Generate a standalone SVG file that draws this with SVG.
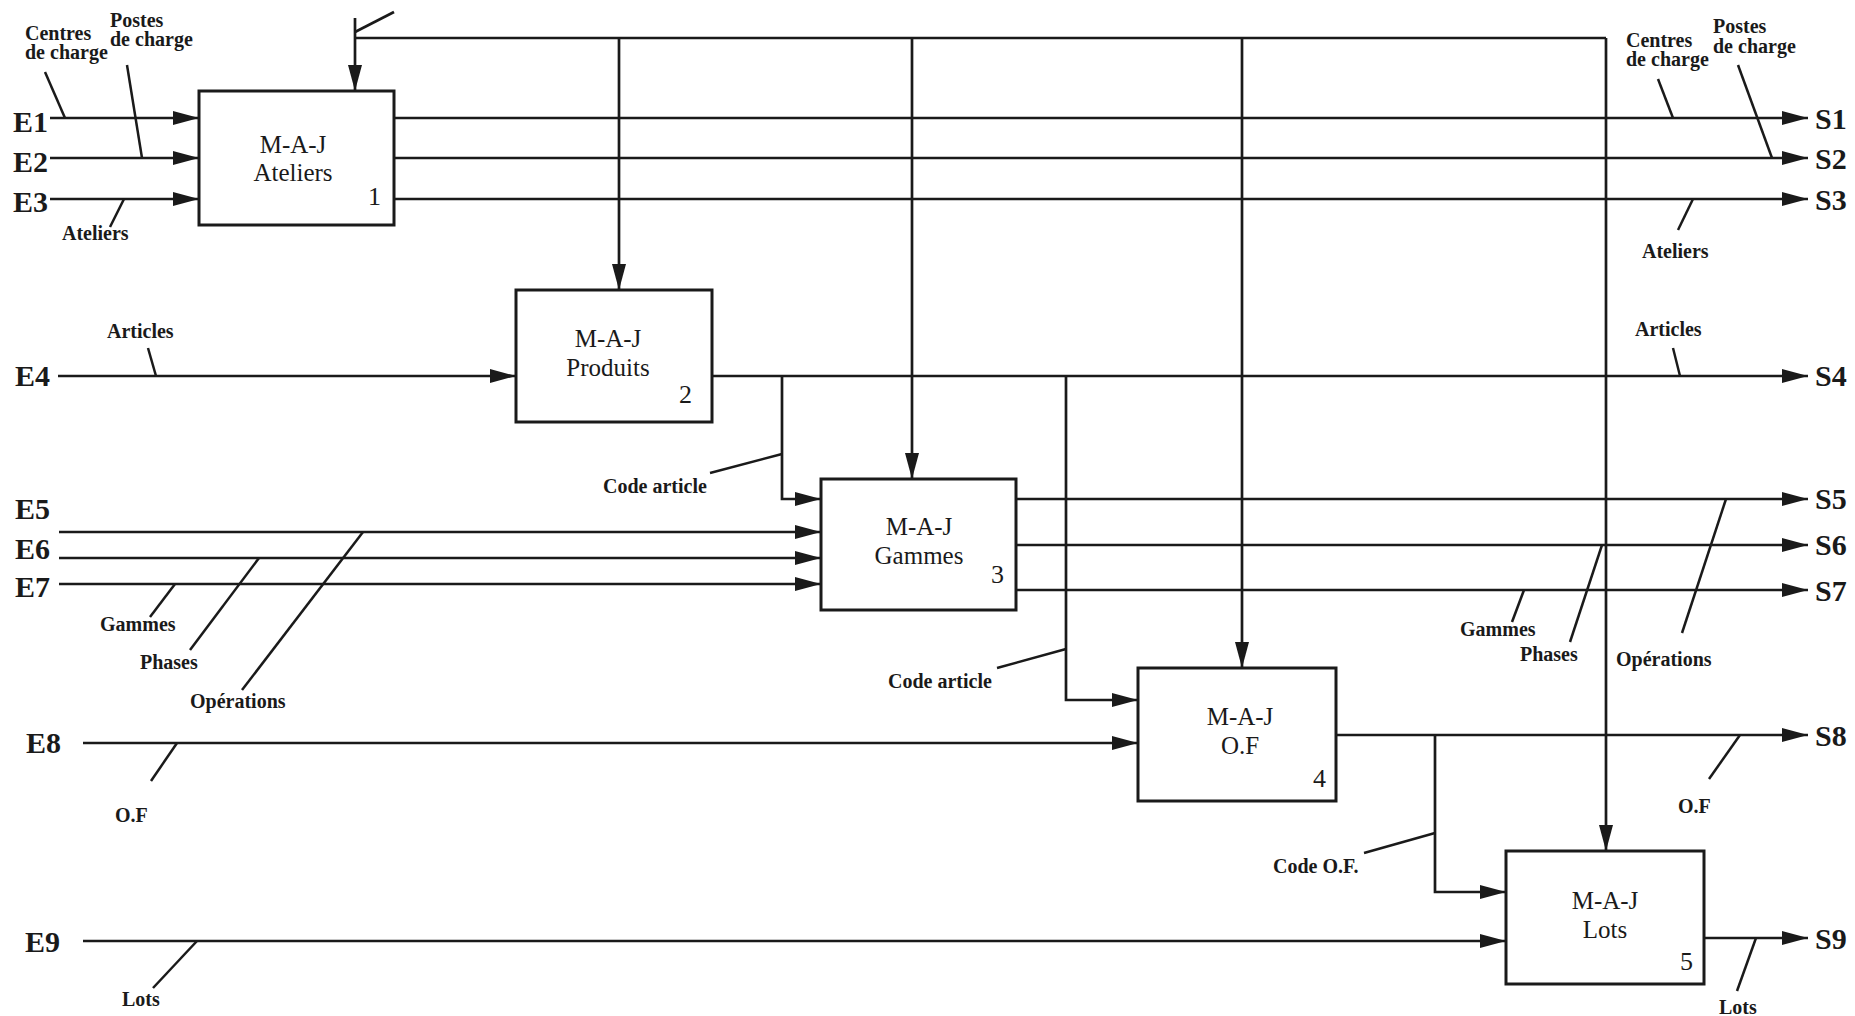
<svg xmlns="http://www.w3.org/2000/svg" width="1855" height="1016" viewBox="0 0 1855 1016">
<defs>
<marker id="ah" markerUnits="userSpaceOnUse" markerWidth="26" markerHeight="14" refX="26" refY="7" orient="auto" viewBox="0 0 26 14"><path d="M0,0 L26,7 L0,14 z" fill="#1a1a1a"/></marker>
</defs>
<style>
.ln{fill:none;stroke:#1a1a1a;stroke-width:2.7}
.ar{marker-end:url(#ah)}
.ld{fill:none;stroke:#1a1a1a;stroke-width:2.5}
.box{fill:#fff;stroke:#1a1a1a;stroke-width:3}
.bt{font-family:"Liberation Serif","Times New Roman",serif;font-size:25px;fill:#1a1a1a;text-anchor:middle}
.bn{font-family:"Liberation Serif","Times New Roman",serif;font-size:26px;fill:#1a1a1a;text-anchor:end}
.io{font-family:"Liberation Serif","Times New Roman",serif;font-size:30px;font-weight:bold;fill:#1a1a1a}
.lb{font-family:"Liberation Serif","Times New Roman",serif;font-size:20px;font-weight:bold;fill:#1a1a1a}
</style>
<rect width="1855" height="1016" fill="#fff"/>
<g id="connectors">
<path class="ln ar" d="M50,118 H199"/>
<path class="ln ar" d="M50,158 H199"/>
<path class="ln ar" d="M50,199 H199"/>
<path class="ln ar" d="M58,376 H516"/>
<path class="ln ar" d="M59,532 H821"/>
<path class="ln ar" d="M59,558 H821"/>
<path class="ln ar" d="M59,584 H821"/>
<path class="ln ar" d="M83,743 H1138"/>
<path class="ln ar" d="M83,941 H1506"/>
<path class="ln ar" d="M355,18 V91"/>
<path class="ln" d="M355,32 L394,12"/>
<path class="ln" d="M355,38 H1606"/>
<path class="ln ar" d="M619,38 V290"/>
<path class="ln ar" d="M912,38 V479"/>
<path class="ln ar" d="M1242,38 V668"/>
<path class="ln ar" d="M1606,38 V851"/>
<path class="ln ar" d="M394,118 H1808"/>
<path class="ln ar" d="M394,158 H1808"/>
<path class="ln ar" d="M394,199 H1808"/>
<path class="ln ar" d="M712,376 H1808"/>
<path class="ln ar" d="M1016,499 H1808"/>
<path class="ln ar" d="M1016,545 H1808"/>
<path class="ln ar" d="M1016,590 H1808"/>
<path class="ln ar" d="M1336,735 H1808"/>
<path class="ln ar" d="M1704,938 H1808"/>
<path class="ln ar" d="M782,376 V499 H821"/>
<path class="ln ar" d="M1066,376 V700 H1138"/>
<path class="ln ar" d="M1435,735 V892 H1506"/>
</g>
<g id="leaders">
<path class="ld" d="M45,72 L65,118"/>
<path class="ld" d="M127,65 L142,158"/>
<path class="ld" d="M124,199 L110,227"/>
<path class="ld" d="M148,348 L156,376"/>
<path class="ld" d="M175,584 L150,617"/>
<path class="ld" d="M259,558 L190,650"/>
<path class="ld" d="M363,532 L242,690"/>
<path class="ld" d="M177,743 L151,781"/>
<path class="ld" d="M197,941 L153,988"/>
<path class="ld" d="M710,473 L782,454"/>
<path class="ld" d="M997,668 L1066,649"/>
<path class="ld" d="M1364,853 L1435,833"/>
<path class="ld" d="M1658,79 L1673,118"/>
<path class="ld" d="M1738,65 L1772,158"/>
<path class="ld" d="M1693,199 L1678,230"/>
<path class="ld" d="M1673,348 L1680,376"/>
<path class="ld" d="M1524,590 L1512,622"/>
<path class="ld" d="M1602,545 L1570,642"/>
<path class="ld" d="M1726,499 L1682,633"/>
<path class="ld" d="M1740,735 L1709,779"/>
<path class="ld" d="M1756,938 L1737,991"/>
</g>
<g id="node1">
<rect class="box" x="199" y="91" width="195" height="134"/>
<text class="bt" x="293" y="153">M-A-J</text>
<text class="bt" x="293" y="181">Ateliers</text>
<text class="bn" x="381" y="205">1</text>
</g>
<g id="node2">
<rect class="box" x="516" y="290" width="196" height="132"/>
<text class="bt" x="608" y="347">M-A-J</text>
<text class="bt" x="608" y="376">Produits</text>
<text class="bn" x="692" y="403">2</text>
</g>
<g id="node3">
<rect class="box" x="821" y="479" width="195" height="131"/>
<text class="bt" x="919" y="535">M-A-J</text>
<text class="bt" x="919" y="564">Gammes</text>
<text class="bn" x="1004" y="583">3</text>
</g>
<g id="node4">
<rect class="box" x="1138" y="668" width="198" height="133"/>
<text class="bt" x="1240" y="725">M-A-J</text>
<text class="bt" x="1240" y="754">O.F</text>
<text class="bn" x="1326" y="787">4</text>
</g>
<g id="node5">
<rect class="box" x="1506" y="851" width="198" height="133"/>
<text class="bt" x="1605" y="909">M-A-J</text>
<text class="bt" x="1605" y="938">Lots</text>
<text class="bn" x="1693" y="970">5</text>
</g>
<g id="io-labels">
<text class="io" x="13" y="132">E1</text>
<text class="io" x="13" y="172">E2</text>
<text class="io" x="13" y="212">E3</text>
<text class="io" x="15" y="386">E4</text>
<text class="io" x="15" y="519">E5</text>
<text class="io" x="15" y="559">E6</text>
<text class="io" x="15" y="597">E7</text>
<text class="io" x="26" y="753">E8</text>
<text class="io" x="25" y="952">E9</text>
<text class="io" x="1815" y="129">S1</text>
<text class="io" x="1815" y="169">S2</text>
<text class="io" x="1815" y="210">S3</text>
<text class="io" x="1815" y="386">S4</text>
<text class="io" x="1815" y="509">S5</text>
<text class="io" x="1815" y="555">S6</text>
<text class="io" x="1815" y="601">S7</text>
<text class="io" x="1815" y="746">S8</text>
<text class="io" x="1815" y="949">S9</text>
</g>
<g id="flow-labels">
<text class="lb" x="25" y="40">Centres</text>
<text class="lb" x="25" y="59">de charge</text>
<text class="lb" x="110" y="27">Postes</text>
<text class="lb" x="110" y="46">de charge</text>
<text class="lb" x="62" y="240">Ateliers</text>
<text class="lb" x="107" y="338">Articles</text>
<text class="lb" x="100" y="631">Gammes</text>
<text class="lb" x="140" y="669">Phases</text>
<text class="lb" x="190" y="708">Opérations</text>
<text class="lb" x="115" y="822">O.F</text>
<text class="lb" x="122" y="1006">Lots</text>
<text class="lb" x="603" y="493">Code article</text>
<text class="lb" x="888" y="688">Code article</text>
<text class="lb" x="1273" y="873">Code O.F.</text>
<text class="lb" x="1626" y="47">Centres</text>
<text class="lb" x="1626" y="66">de charge</text>
<text class="lb" x="1713" y="33">Postes</text>
<text class="lb" x="1713" y="53">de charge</text>
<text class="lb" x="1642" y="258">Ateliers</text>
<text class="lb" x="1635" y="336">Articles</text>
<text class="lb" x="1460" y="636">Gammes</text>
<text class="lb" x="1520" y="661">Phases</text>
<text class="lb" x="1616" y="666">Opérations</text>
<text class="lb" x="1678" y="813">O.F</text>
<text class="lb" x="1719" y="1014">Lots</text>
</g>
</svg>
